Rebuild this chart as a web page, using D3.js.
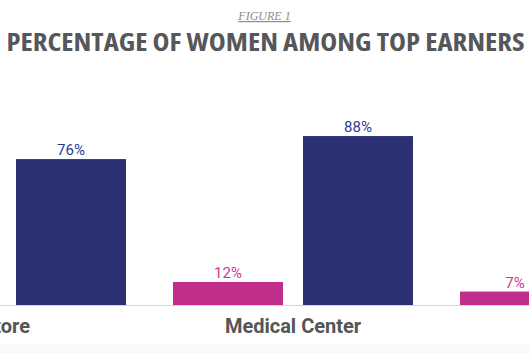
<!DOCTYPE html>
<html>
<head>
<meta charset="utf-8">
<script src="https://cdn.jsdelivr.net/npm/d3@7"></script>
<style>
  body { margin: 0; background: #fff; }
  svg { display: block; }
</style>
</head>
<body>
<div id="chart"></div>
<script>
// values; null = bar lies outside the visible crop
var categories = ["Store", "Medical Center", "Bank"];
var seriesNames = ["Top earners", "All staff"];
var topEarners = [null, 12, 7];
var allStaff = [76, 88, null];
var seriesColors = ["#c12d8b", "#2c3176"];
var labelColors = ["#cc3a9b", "#2b3a98"];

var width = 529,
    height = 353;

var svg = d3.select("#chart")
  .append("svg")
    .attr("width", width)
    .attr("height", height);

// faint band at the bottom of the crop
svg.append("rect")
    .attr("x", 0)
    .attr("y", 344)
    .attr("width", width)
    .attr("height", height - 344)
    .attr("fill", "#f9f9f9");

svg.append("text")
    .attr("x", width / 2)
    .attr("y", 20)
    .attr("text-anchor", "middle")
    .style("font-family", "'Liberation Serif', 'DejaVu Serif', serif")
    .style("font-style", "italic")
    .style("font-size", "12px")
    .style("text-decoration", "underline")
    .attr("fill", "#8c8c8c")
    .text("FIGURE 1");

svg.append("text")
    .attr("x", width / 2 + 1)
    .attr("y", 51)
    .attr("text-anchor", "middle")
    .attr("textLength", 518)
    .attr("lengthAdjust", "spacingAndGlyphs")
    .style("font-family", "'Open Sans', sans-serif")
    .style("font-weight", 700)
    .style("font-stretch", "condensed")
    .style("font-size", "25px")
    .attr("fill", "#55575b")
    .text("PERCENTAGE OF WOMEN AMONG TOP EARNERS");

var data = categories.map(function(c, i) {
  return {category: c, values: [
    {key: seriesNames[0], value: topEarners[i], s: 0},
    {key: seriesNames[1], value: allStaff[i], s: 1}
  ]};
});

var step = 287, groupGap = 47, firstCenter = 6;
var x0 = d3.scaleBand()
    .domain(categories)
    .range([firstCenter - step / 2, firstCenter - step / 2 + step * categories.length])
    .paddingInner(groupGap / step)
    .paddingOuter(groupGap / 2 / step);

var x1 = d3.scaleBand()
    .domain(seriesNames)
    .range([0, x0.bandwidth()])
    .paddingInner(20 / 130);

var y = d3.scaleLinear()
    .domain([0, 100])
    .range([305, 113]);

var xAxis = svg.append("g")
    .attr("transform", "translate(0,305)")
    .call(d3.axisBottom(x0).tickSize(0).tickSizeOuter(0).tickPadding(14));

xAxis.select(".domain")
    .attr("stroke", "#d4d4d4");

xAxis.selectAll("text")
    .style("font-family", "Roboto, sans-serif")
    .style("font-weight", 700)
    .style("font-size", "20px")
    .attr("fill", "#555557");

var groups = svg.append("g")
  .selectAll("g")
  .data(data)
  .enter()
  .append("g")
    .attr("transform", function(d) { return "translate(" + x0(d.category) + ",0)"; });

var bars = groups.selectAll("g")
  .data(function(d) { return d.values.filter(function(v) { return v.value != null; }); })
  .enter()
  .append("g");

bars.append("rect")
    .attr("x", function(d) { return x1(d.key); })
    .attr("y", function(d) { return y(d.value); })
    .attr("width", x1.bandwidth())
    .attr("height", function(d) { return y(0) - y(d.value); })
    .attr("fill", function(d) { return seriesColors[d.s]; });

bars.append("text")
    .attr("x", function(d) { return x1(d.key) + x1.bandwidth() / 2; })
    .attr("y", function(d) { return y(d.value) - 4; })
    .attr("text-anchor", "middle")
    .style("font-family", "Roboto, sans-serif")
    .style("font-size", "15px")
    .attr("fill", function(d) { return labelColors[d.s]; })
    .text(function(d) { return d.value + "%"; });
</script>
</body>
</html>
